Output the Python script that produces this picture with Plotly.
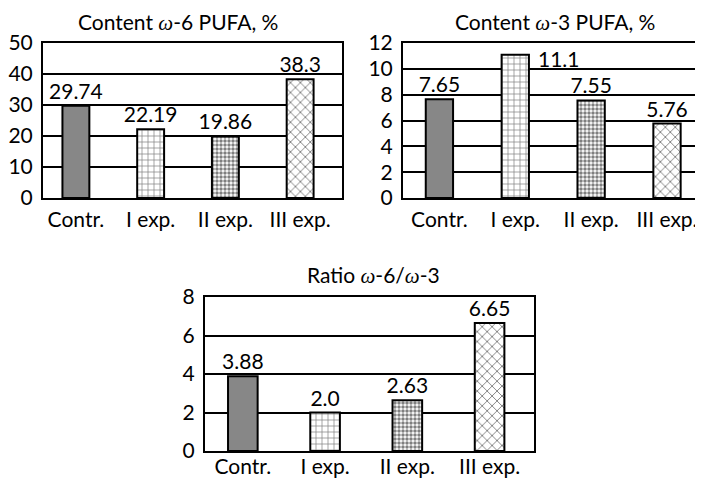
import plotly.graph_objects as go

categories = ["Contr.", "I exp.", "II exp.", "III exp."]
omega6_values = [29.74, 22.19, 19.86, 38.3]
omega3_values = [7.65, 11.1, 7.55, 5.76]
ratio_values = [3.88, 2.0, 2.63, 6.65]

titles = [
    "Content <span style=\"font-family:'Liberation Serif'\"><i>ω</i></span>-6 PUFA, %",
    "Content <span style=\"font-family:'Liberation Serif'\"><i>ω</i></span>-3 PUFA, %",
    "Ratio <span style=\"font-family:'Liberation Serif'\"><i>ω</i></span>-6/<span style=\"font-family:'Liberation Serif'\"><i>ω</i></span>-3",
]

FONT = "Lato"
FS = 21
fills = ["#878787", "white", "white", "white"]
patterns = [
    dict(shape=""),
    dict(shape="+", fgcolor="black", bgcolor="white", size=6, solidity=0.22, fillmode="overlay"),
    dict(shape=".", fgcolor="black", bgcolor="white", size=4, solidity=0.6, fillmode="overlay"),
    dict(shape="x", fgcolor="black", bgcolor="white", size=7, solidity=0.25, fillmode="overlay"),
]

fig = go.Figure()

def add_panel(values, xa, ya, hide_text=None):
    for i, (c, v) in enumerate(zip(categories, values)):
        txt = "" if hide_text == i else str(v)
        fig.add_trace(go.Bar(
            x=[i], y=[v], width=0.36, xaxis=xa, yaxis=ya,
            marker=dict(color=fills[i], line=dict(color="black", width=2),
                        pattern=patterns[i]),
            text=[txt], textposition="outside", cliponaxis=False, constraintext="none",
            textfont=dict(family=FONT, size=FS, color="black"),
            showlegend=False, hoverinfo="skip",
        ))

add_panel(omega6_values, "x", "y")
add_panel(omega3_values, "x2", "y2", hide_text=1)
add_panel(ratio_values, "x3", "y3")

# label of the tallest ω-3 bar sits to the right of the bar top
fig.add_annotation(x=1, y=omega3_values[1], xref="x2", yref="y2", text=str(omega3_values[1]),
                   showarrow=False, xanchor="left", yanchor="middle", xshift=21, yshift=-4,
                   font=dict(family=FONT, size=FS, color="black"))

axis_common_x = dict(tickmode="array", tickvals=[0, 1, 2, 3], ticktext=categories,
                     showgrid=False, zeroline=False, showline=True, mirror=True,
                     linecolor="black", linewidth=2, ticks="", automargin=False,
                     tickfont=dict(family=FONT, size=FS, color="black"))
axis_common_y = dict(showgrid=True, gridcolor="black", gridwidth=2, zeroline=False,
                     showline=True, mirror=True, linecolor="black", linewidth=2, ticks="",
                     automargin=False,
                     tickfont=dict(family=FONT, size=FS, color="black"), ticklabelstandoff=4)

fig.update_layout(
    width=703, height=480,
    margin=dict(l=0, r=0, t=0, b=0, pad=0, autoexpand=False),
    paper_bgcolor="white", plot_bgcolor="white",
    barmode="overlay",
    font=dict(family=FONT, color="black"),
    xaxis=dict(domain=[35/703, 334/703], range=[-0.44, 3.56], anchor="y",
               ticklabelstandoff=2, **axis_common_x),
    yaxis=dict(domain=[290/480, 445/480], range=[0, 50], dtick=10, anchor="x", **axis_common_y),
    xaxis2=dict(domain=[395/703, 1.0], range=[-0.48, 3.58], anchor="y2",
                ticklabelstandoff=2, **axis_common_x),
    yaxis2=dict(domain=[290/480, 445/480], range=[0, 12], dtick=2, anchor="x2", **axis_common_y),
    xaxis3=dict(domain=[197/703, 526/703], range=[-0.46, 3.54], anchor="y3",
                ticklabelstandoff=-4, **axis_common_x),
    yaxis3=dict(domain=[37/480, 191/480], range=[0, 8], dtick=2, anchor="x3", **axis_common_y),
)

title_pos = [(170/703, 466/480), (547/703, 466/480), (365/703, 213/480)]
for t, (tx, ty) in zip(titles, title_pos):
    fig.add_annotation(x=tx, y=ty, xref="paper", yref="paper", text=t, showarrow=False,
                       xanchor="center", yanchor="middle",
                       font=dict(family=FONT, size=FS, color="black"))

fig.write_html("out.html")
